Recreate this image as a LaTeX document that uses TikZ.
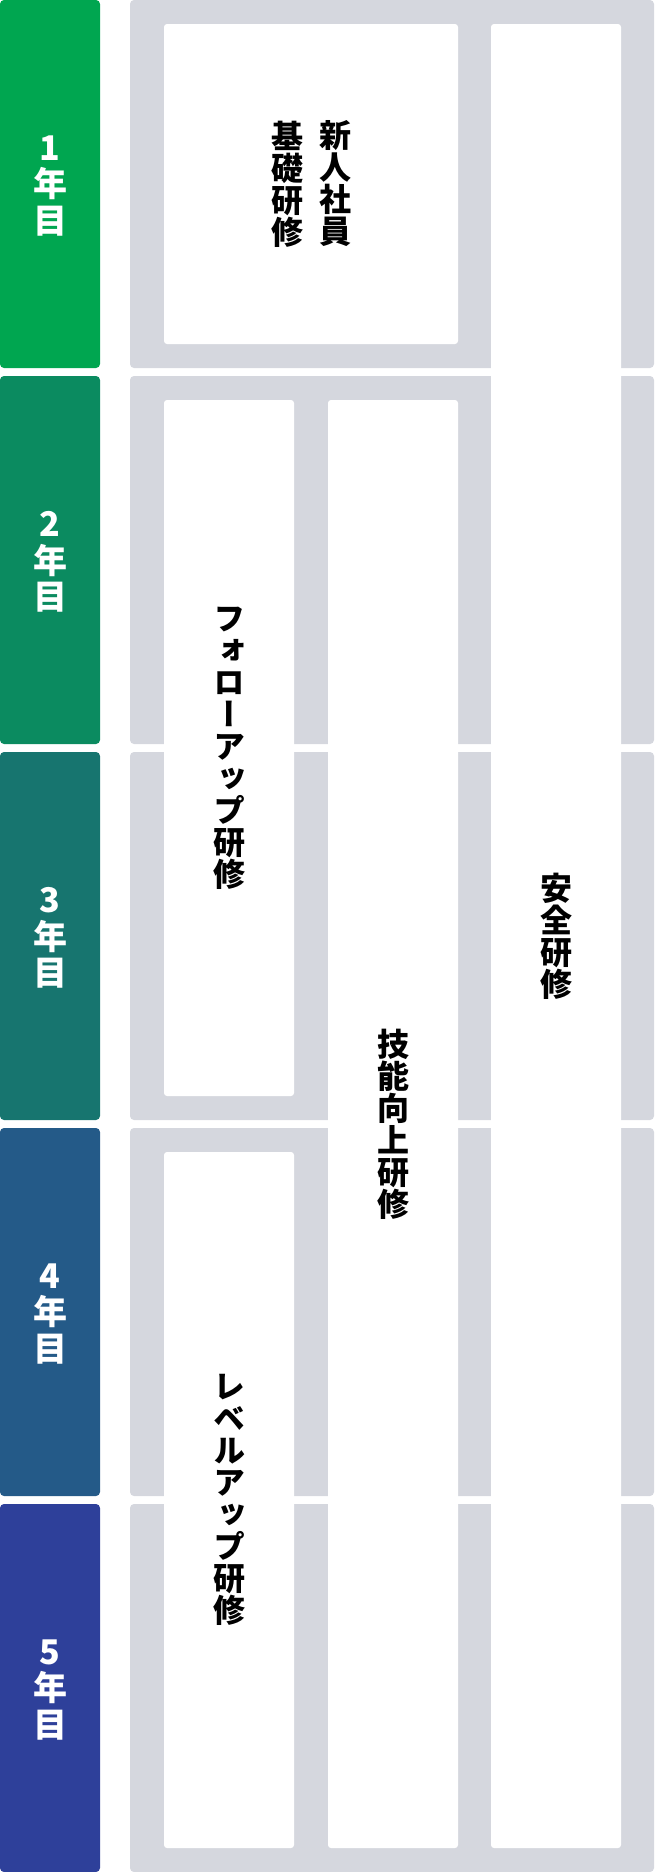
\documentclass[tikz,border=0pt]{standalone}
\usepackage{fontspec}
\newfontfamily\jpfont[RawFeature=+vert]{Noto Sans CJK JP}
\definecolor{yOne}{HTML}{00A650}
\definecolor{yTwo}{HTML}{0B8B60}
\definecolor{yThree}{HTML}{17756F}
\definecolor{yFour}{HTML}{245A88}
\definecolor{yFive}{HTML}{2E409A}
\definecolor{rowgray}{HTML}{D5D7DE}
\tikzset{
  yearbox/.style={fill=#1, draw=none, rounded corners=4pt},
  rowbg/.style={fill=rowgray, draw=none, rounded corners=4pt},
  coursebox/.style={fill=white, draw=none, rounded corners=3pt},
  yearlabel/.style={text=white, align=center, inner sep=0pt, font=\jpfont\bfseries\fontsize{34}{36.5}\selectfont},
  courselabel/.style={text=black, align=center, inner sep=0pt, font=\jpfont\bfseries\fontsize{32}{32}\selectfont},
}
\begin{document}
\begin{tikzpicture}[x=1pt,y=-1pt]
\useasboundingbox (0,0) rectangle (654,1872);
% year boxes and row backgrounds
\foreach \i/\c in {0/yOne,1/yTwo,2/yThree,3/yFour,4/yFive}{
  \pgfmathsetmacro{\top}{\i*376}
  \pgfmathsetmacro{\bot}{\i*376+368}
  \fill[yearbox=\c] (0,\top) rectangle (100,\bot);
  \fill[rowbg] (130,\top) rectangle (654,\bot);
}
% course boxes
\fill[coursebox] (164,24) rectangle (458,344);
\fill[coursebox] (491,24) rectangle (621,1848);
\fill[coursebox] (164,400) rectangle (294,1096);
\fill[coursebox] (328,400) rectangle (458,1848);
\fill[coursebox] (164,1152) rectangle (294,1848);
% year labels
\node[yearlabel] (y1) at (50,186) {1\\年\\目};
\node[yearlabel] (y2) at (50,562) {2\\年\\目};
\node[yearlabel] (y3) at (50,938) {3\\年\\目};
\node[yearlabel] (y4) at (50,1314) {4\\年\\目};
\node[yearlabel] (y5) at (50,1690) {5\\年\\目};
% course labels
\node[courselabel] (c1a) at (335,184) {新\\人\\社\\員};
\node[courselabel] (c1b) at (287,184) {基\\礎\\研\\修};
\node[courselabel] (c2) at (229,748) {フ\\ォ\\ロ\\ー\\ア\\ッ\\プ\\研\\修};
\node[courselabel] (c3) at (393,1124) {技\\能\\向\\上\\研\\修};
\node[courselabel] (c4) at (556,936) {安\\全\\研\\修};
\node[courselabel] (c5) at (229,1500) {レ\\ベ\\ル\\ア\\ッ\\プ\\研\\修};
\end{tikzpicture}
\end{document}
